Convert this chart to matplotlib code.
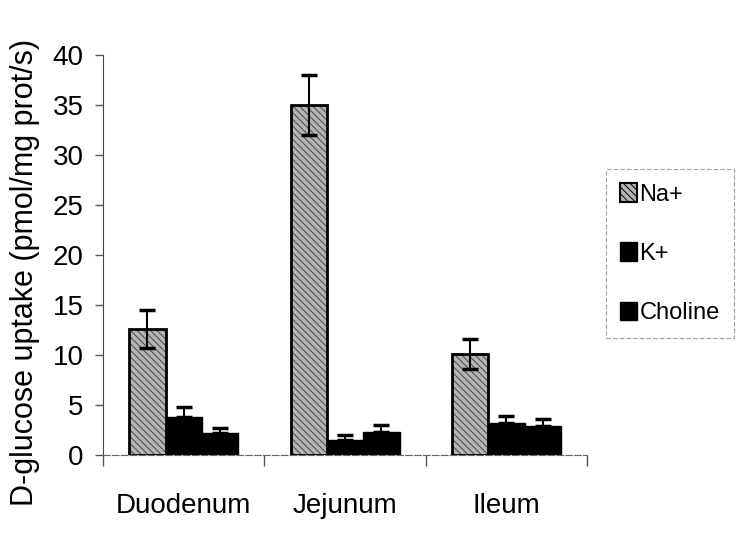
import matplotlib
matplotlib.use("Agg")
import matplotlib.pyplot as plt
import numpy as np
from matplotlib.patches import Patch

# Data
segments = ["Duodenum", "Jejunum", "Ileum"]
series = ["Na+", "K+", "Choline"]
na_vals = [12.6, 35.0, 10.1]
na_err = [1.9, 3.0, 1.5]
k_vals = [3.8, 1.5, 3.2]
k_err = [1.0, 0.5, 0.7]
ch_vals = [2.2, 2.3, 2.9]
ch_err = [0.5, 0.7, 0.7]
yticks = [0, 5, 10, 15, 20, 25, 30, 35, 40]

plt.rcParams["font.family"] = ["Liberation Sans", "DejaVu Sans"]
plt.rcParams["hatch.linewidth"] = 0.7

fig = plt.figure(figsize=(7.38, 5.36), dpi=100)
ax = fig.add_axes([0.1396, 0.151, 0.656, 0.746])

x = np.arange(len(segments))
w = 0.225
err_kw = dict(ecolor="black", elinewidth=1.5, capsize=6, capthick=2.5)

# Na+: grey hatched bar with heavy black outline
ax.bar(x - w, na_vals, w, color="#b4b4b4", edgecolor="#4a4a4a",
       hatch="\\\\\\\\\\", linewidth=0, zorder=2)
ax.bar(x - w, na_vals, w, fill=False, edgecolor="black", linewidth=2, zorder=3)
ax.errorbar(x - w, na_vals, yerr=na_err, fmt="none", zorder=4, **err_kw)

ax.bar(x, k_vals, w, color="black", edgecolor="black", linewidth=1, zorder=2)
ax.errorbar(x, k_vals, yerr=[[0] * 3, k_err], fmt="none", zorder=4, **err_kw)

ax.bar(x + w, ch_vals, w, color="black", edgecolor="black", linewidth=1, zorder=2)
ax.errorbar(x + w, ch_vals, yerr=[[0] * 3, ch_err], fmt="none", zorder=4, **err_kw)

ax.set_xlim(-0.5, len(segments) - 0.5)
ax.set_ylim(0, 40)
ax.set_yticks(yticks)
ax.set_yticklabels([str(v) for v in yticks], fontsize=20)
ax.set_xticks(x)
ax.set_xticklabels(segments, fontsize=20)
ax.set_xticks(np.arange(len(segments) + 1) - 0.5, minor=True)
ax.tick_params(axis="x", which="major", length=0, pad=27)
ax.tick_params(axis="x", which="minor", length=8, width=1, direction="out", color="#555555")
ax.tick_params(axis="y", length=6, width=1, direction="out", color="#555555", pad=8)

for s in ["top", "right"]:
    ax.spines[s].set_visible(False)
ax.spines["left"].set_color("#444444")
ax.spines["bottom"].set_color("#666666")
ax.spines["bottom"].set_linestyle((0, (6, 2)))

# label sits with its right side about 40 px from the image's left edge
ax.set_ylabel("D-glucose uptake (pmol/mg prot/s)", fontsize=22)
ax.yaxis.set_label_coords(-63 / 484, 0.457)

handles = [
    Patch(facecolor="#b4b4b4", edgecolor="black", hatch="\\\\\\\\\\", linewidth=1.5),
    Patch(facecolor="black", edgecolor="black"),
    Patch(facecolor="black", edgecolor="black"),
]
leg = fig.legend(handles, series, loc="upper left",
                 bbox_to_anchor=(606 / 738, 1 - 169 / 536),
                 frameon=True, fancybox=False, fontsize=17,
                 handlelength=0.7, handleheight=0.85, handletextpad=0.12,
                 labelspacing=1.55, borderpad=0.6, borderaxespad=0)
leg.get_frame().set_edgecolor("#888888")
leg.get_frame().set_linewidth(0.8)
leg.get_frame().set_linestyle((0, (4, 2)))

fig.savefig("out.png", dpi=100, facecolor="white")
